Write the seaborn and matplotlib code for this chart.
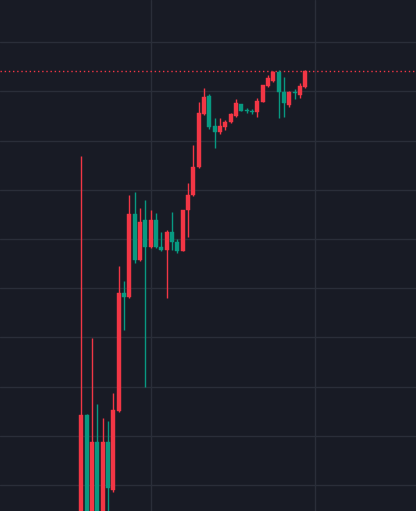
import numpy as np
import pandas as pd
import matplotlib
matplotlib.use("Agg")
import matplotlib.pyplot as plt
import seaborn as sns

# ---- data (OHLC per candle) ----
opens = [84.76, 114.23, 87.80, 108.80, 90.85, 108.80, 98.98, 115.10, 138.96, 138.15,
         155.08, 145.73, 153.86, 148.31, 153.86, 148.43, 147.76, 151.48, 149.45, 147.62,
         155.89, 158.94, 164.63, 175.41, 179.07, 172.97, 171.81, 172.83, 173.78, 175.00,
         177.44, 176.16, 175.91, 175.87, 177.91, 181.10, 182.17, 183.88, 179.94, 177.24,
         179.94, 179.27, 180.83]
highs = [166.87, 114.40, 129.82, 116.46, 113.56, 113.01, 118.64, 144.51, 141.46, 158.94,
         159.61, 156.24, 157.93, 155.89, 155.22, 151.48, 151.83, 155.49, 149.94, 155.89,
         161.44, 169.11, 177.91, 180.79, 179.47, 174.59, 174.53, 174.19, 175.61, 178.39,
         177.54, 176.57, 176.42, 178.60, 181.40, 183.33, 184.21, 184.35, 182.87, 180.08,
         180.43, 181.71, 184.35]
lows = [80.69, 85.00, 86.00, 88.82, 88.90, 90.00, 98.64, 114.90, 131.50, 138.00,
        145.18, 145.53, 119.86, 148.20, 148.20, 147.56, 137.95, 147.76, 147.09, 147.50,
        150.47, 158.80, 164.43, 175.20, 172.36, 168.60, 171.34, 172.15, 173.58, 174.80,
        176.02, 175.67, 175.41, 174.86, 177.85, 180.89, 181.97, 174.53, 174.86, 176.83,
        178.39, 178.58, 180.69]
closes = [114.23, 87.80, 108.80, 90.85, 108.80, 99.33, 115.24, 138.96, 138.15, 155.08,
          145.73, 153.46, 148.31, 153.86, 148.31, 147.76, 151.48, 149.45, 147.62, 155.89,
          158.94, 164.70, 175.61, 178.92, 172.83, 171.81, 172.97, 173.84, 175.41, 177.58,
          176.08, 176.02, 175.83, 178.11, 181.30, 182.66, 183.88, 179.94, 177.70, 179.88,
          179.61, 181.10, 184.21]

price_ticks = [100, 110, 120, 130, 140, 150, 160, 170, 180, 190]
time_ticks = [13.07, 43.82]

df = pd.DataFrame({"open": opens, "high": highs, "low": lows, "close": closes})
df["idx"] = np.arange(len(df))
df["up"] = df["close"] >= df["open"]

UP = "#f23645"
DOWN = "#089981"
BG = "#181b25"
GRID = "#2a2e39"

sns.set_theme(style="dark", rc={"axes.facecolor": BG, "figure.facecolor": BG,
                                "grid.color": GRID})

fig = plt.figure(figsize=(4.16, 5.11), dpi=100)
ax = fig.add_axes([0, 0, 1, 1])
ax.set_facecolor(BG)

colors = np.where(df["up"], UP, DOWN)

ax.vlines(df["idx"], df["low"], df["high"], colors=colors, linewidth=1.0, zorder=2)
bottoms = np.minimum(df["open"], df["close"])
heights = np.maximum(np.abs(df["close"] - df["open"]), 0.2)
ax.bar(df["idx"], heights, bottom=bottoms, width=0.72, color=colors,
       edgecolor=colors, linewidth=0.3, zorder=3)

last = closes[-1]
last_color = UP if closes[-1] >= opens[-1] else DOWN
ax.axhline(last, color=last_color, linestyle=(0, (1, 2)), linewidth=1.0, zorder=1)

ax.set_xlim(-15.24, 62.76)
ax.set_ylim(94.72, 198.58)
ax.set_yticks(price_ticks)
ax.set_xticks(time_ticks)
ax.grid(True, color=GRID, linewidth=1.0, zorder=0)
ax.tick_params(length=0, labelleft=False, labelbottom=False)
for s in ax.spines.values():
    s.set_visible(False)

fig.savefig("out.png", dpi=100, facecolor=BG)
